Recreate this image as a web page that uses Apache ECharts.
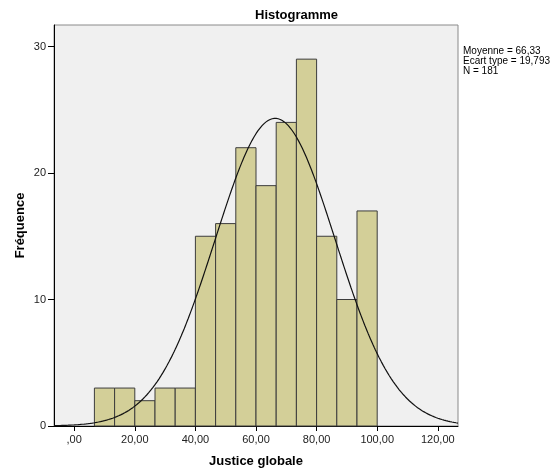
<!DOCTYPE html>
<html>
<head>
<meta charset="utf-8">
<script src="https://cdn.jsdelivr.net/npm/echarts@6/dist/echarts.min.js"></script>
<style>
  html, body { margin: 0; padding: 0; background: #ffffff; }
  #chart { width: 558px; height: 473px; }
</style>
</head>
<body>
<div id="chart"></div>
<script>
// Histogram of "Justice globale" with fitted normal curve
const binLower = [6.667, 13.333, 20, 26.667, 33.333, 40, 46.667, 53.333, 60, 66.667, 73.333, 80, 86.667, 93.333];
const binUpper = [13.333, 20, 26.667, 33.333, 40, 46.667, 53.333, 60, 66.667, 73.333, 80, 86.667, 93.333, 100];
const counts   = [3, 3, 2, 3, 3, 15, 16, 22, 19, 24, 29, 15, 10, 17];

const xTicks = [0, 20, 40, 60, 80, 100, 120];
const yTicks = [0, 10, 20, 30];

const mean = 66.33;
const sd = 19.793;
const n = 181;
const statsLines = ['Moyenne = 66,33', 'Ecart type = 19,793', 'N = 181'];

const xMin = -6.667, xMax = 126.667, yMax = 31.7;
const binWidth = binUpper[0] - binLower[0];

const bars = counts.map((c, i) => [binLower[i], binUpper[i], c]);

// normal density scaled to counts per bin
const curve = [];
for (let k = 0; k <= 400; k++) {
  const x = xMin + (xMax - xMin) * k / 400;
  const z = (x - mean) / sd;
  const y = n * binWidth * Math.exp(-0.5 * z * z) / (sd * Math.sqrt(2 * Math.PI));
  curve.push([x, y]);
}

function frNum(v) {
  const s = v.toFixed(2).replace('.', ',');
  return s.startsWith('0,') ? s.slice(1) : s;
}

const font = '"Liberation Sans", Arial, sans-serif';
const chart = echarts.init(document.getElementById('chart'), null, { renderer: 'canvas' });

chart.setOption({
  backgroundColor: '#ffffff',
  animation: false,
  title: {
    text: 'Histogramme',
    left: 250,
    top: 4,
    textStyle: { fontFamily: font, fontSize: 13, fontWeight: 'bold', color: '#000' }
  },
  grid: {
    left: 54, right: 100, top: 25, bottom: 47,
    show: true,
    backgroundColor: '#f0f0f0',
    borderColor: '#8a8a8a',
    borderWidth: 1
  },
  xAxis: {
    type: 'value',
    min: xMin,
    max: xMax,
    name: 'Justice globale',
    nameLocation: 'middle',
    nameGap: 29,
    nameTextStyle: { fontFamily: font, fontSize: 13, fontWeight: 'bold', color: '#000' },
    axisLine: { show: true, onZero: false, lineStyle: { color: '#000', width: 1 } },
    axisTick: { show: true, length: 5, customValues: xTicks, lineStyle: { color: '#000' } },
    axisLabel: {
      customValues: xTicks,
      margin: 8,
      fontFamily: font, fontSize: 11, color: '#222',
      formatter: v => frNum(v)
    },
    splitLine: { show: false }
  },
  yAxis: {
    type: 'value',
    min: 0,
    max: yMax,
    name: 'Fréquence',
    nameLocation: 'middle',
    nameGap: 27,
    nameMoveOverlap: false,
    nameRotate: 90,
    nameTextStyle: { fontFamily: font, fontSize: 13, fontWeight: 'bold', color: '#000' },
    axisLine: { show: true, onZero: false, lineStyle: { color: '#000', width: 1 } },
    axisTick: { show: true, length: 6, customValues: yTicks, lineStyle: { color: '#000' } },
    axisLabel: {
      customValues: yTicks,
      margin: 8,
      fontFamily: font, fontSize: 11, color: '#222'
    },
    splitLine: { show: false }
  },
  graphic: statsLines.map((t, i) => ({
    type: 'text',
    left: 463,
    top: 46 + i * 10,
    style: { text: t, font: '10px ' + font, fill: '#000' }
  })),
  series: [
    {
      type: 'custom',
      data: bars,
      encode: { x: [0, 1], y: 2 },
      renderItem: (params, api) => {
        const p0 = api.coord([api.value(0), api.value(2)]);
        const p1 = api.coord([api.value(1), 0]);
        return {
          type: 'rect',
          shape: { x: p0[0], y: p0[1], width: p1[0] - p0[0], height: p1[1] - p0[1] },
          style: { fill: '#d3cf98', stroke: '#3c3c3c', lineWidth: 1 }
        };
      },
      z: 2
    },
    {
      type: 'line',
      data: curve,
      showSymbol: false,
      smooth: false,
      lineStyle: { color: '#111', width: 1.2 },
      silent: true,
      z: 3
    }
  ]
});
</script>
</body>
</html>
